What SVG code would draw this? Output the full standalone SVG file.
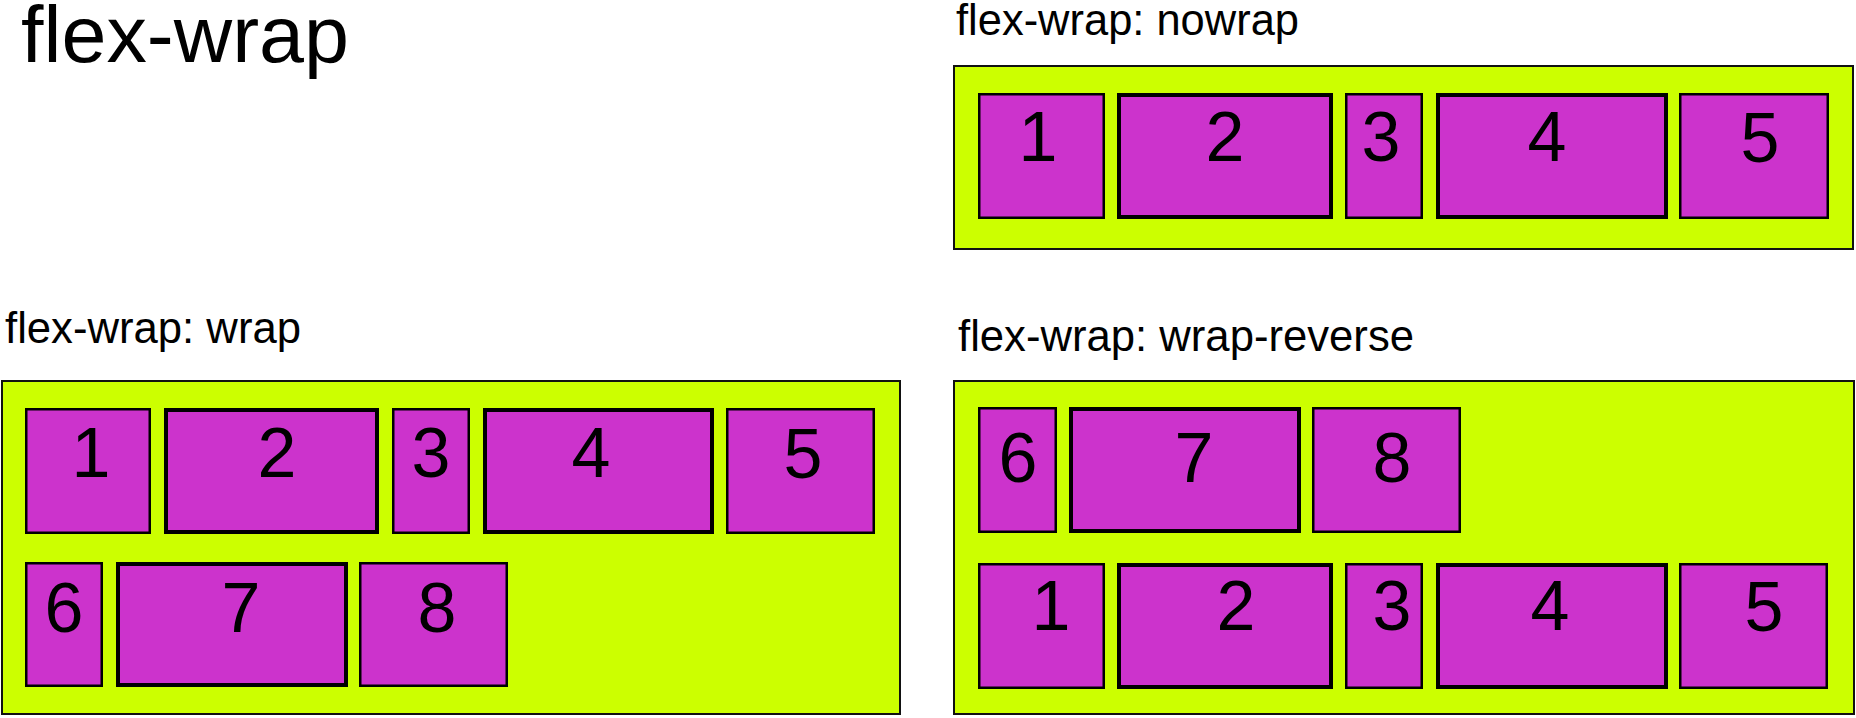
<svg xmlns="http://www.w3.org/2000/svg" width="1856" height="718" viewBox="0 0 1856 718">
<style>
.bg{fill:#ffffff}
.box{fill:#ccff00;stroke:#111;stroke-width:2}
.item{fill:#cc33cc;stroke:#000;stroke-width:2.5}
.thick{stroke-width:4}
.title{font-family:"Liberation Sans",Arial,sans-serif;font-size:79px;fill:#000}
.label{font-family:"Liberation Sans",Arial,sans-serif;font-size:44px;fill:#000}
.num{font-family:"Liberation Sans",Arial,sans-serif;font-size:70px;fill:#000;text-anchor:middle}
</style>
<rect class="bg" x="0" y="0" width="1856" height="718"/>
<g id="title"><text class="title" x="21" y="62" textLength="328" lengthAdjust="spacingAndGlyphs">flex-wrap</text></g>

<g id="nowrap">
<text class="label" x="956" y="35" textLength="343" lengthAdjust="spacingAndGlyphs">flex-wrap: nowrap</text>
<rect class="box" x="954" y="66" width="899" height="183"/>
<g id="nowrap-1"><rect class="item" x="979.25" y="94.25" width="124.5" height="123.5"/><text class="num" x="1038" y="161">1</text></g>
<g id="nowrap-2"><rect class="item thick" x="1119" y="95" width="212" height="122"/><text class="num" x="1225" y="161">2</text></g>
<g id="nowrap-3"><rect class="item" x="1346.25" y="94.25" width="75.5" height="123.5"/><text class="num" x="1381" y="161">3</text></g>
<g id="nowrap-4"><rect class="item thick" x="1438" y="95" width="228" height="122"/><text class="num" x="1547" y="161">4</text></g>
<g id="nowrap-5"><rect class="item" x="1680.25" y="94.25" width="147.5" height="123.5"/><text class="num" x="1760" y="162">5</text></g>
</g>

<g id="wrap">
<text class="label" x="5" y="343" textLength="296" lengthAdjust="spacingAndGlyphs">flex-wrap: wrap</text>
<rect class="box" x="2" y="381" width="898" height="333"/>
<g id="wrap-1"><rect class="item" x="26.25" y="409.25" width="123.5" height="123.5"/><text class="num" x="91" y="477">1</text></g>
<g id="wrap-2"><rect class="item thick" x="166" y="410" width="211" height="122"/><text class="num" x="277" y="477">2</text></g>
<g id="wrap-3"><rect class="item" x="393.25" y="409.25" width="75.5" height="123.5"/><text class="num" x="431" y="477">3</text></g>
<g id="wrap-4"><rect class="item thick" x="485" y="410" width="227" height="122"/><text class="num" x="591" y="477">4</text></g>
<g id="wrap-5"><rect class="item" x="727.25" y="409.25" width="146.5" height="123.5"/><text class="num" x="803" y="478">5</text></g>
<g id="wrap-6"><rect class="item" x="26.25" y="563.25" width="75.5" height="122.5"/><text class="num" x="64" y="632">6</text></g>
<g id="wrap-7"><rect class="item thick" x="118" y="564" width="228" height="121"/><text class="num" x="241" y="632">7</text></g>
<g id="wrap-8"><rect class="item" x="360.25" y="563.25" width="146.5" height="122.5"/><text class="num" x="437" y="632">8</text></g>
</g>

<g id="wrap-reverse">
<text class="label" x="958" y="351" textLength="456" lengthAdjust="spacingAndGlyphs">flex-wrap: wrap-reverse</text>
<rect class="box" x="954" y="381" width="900" height="333"/>
<g id="wr-6"><rect class="item" x="979.25" y="408.25" width="76.5" height="123.5"/><text class="num" x="1018" y="482">6</text></g>
<g id="wr-7"><rect class="item thick" x="1071" y="409" width="228" height="122"/><text class="num" x="1194" y="482">7</text></g>
<g id="wr-8"><rect class="item" x="1313.25" y="408.25" width="146.5" height="123.5"/><text class="num" x="1392" y="482">8</text></g>
<g id="wr-1"><rect class="item" x="979.25" y="564.25" width="124.5" height="123.5"/><text class="num" x="1051" y="630">1</text></g>
<g id="wr-2"><rect class="item thick" x="1119" y="565" width="212" height="122"/><text class="num" x="1236" y="630">2</text></g>
<g id="wr-3"><rect class="item" x="1346.25" y="564.25" width="75.5" height="123.5"/><text class="num" x="1392" y="630">3</text></g>
<g id="wr-4"><rect class="item thick" x="1438" y="565" width="228" height="122"/><text class="num" x="1550" y="630">4</text></g>
<g id="wr-5"><rect class="item" x="1680.25" y="564.25" width="146.5" height="123.5"/><text class="num" x="1764" y="631">5</text></g>
</g>
</svg>
